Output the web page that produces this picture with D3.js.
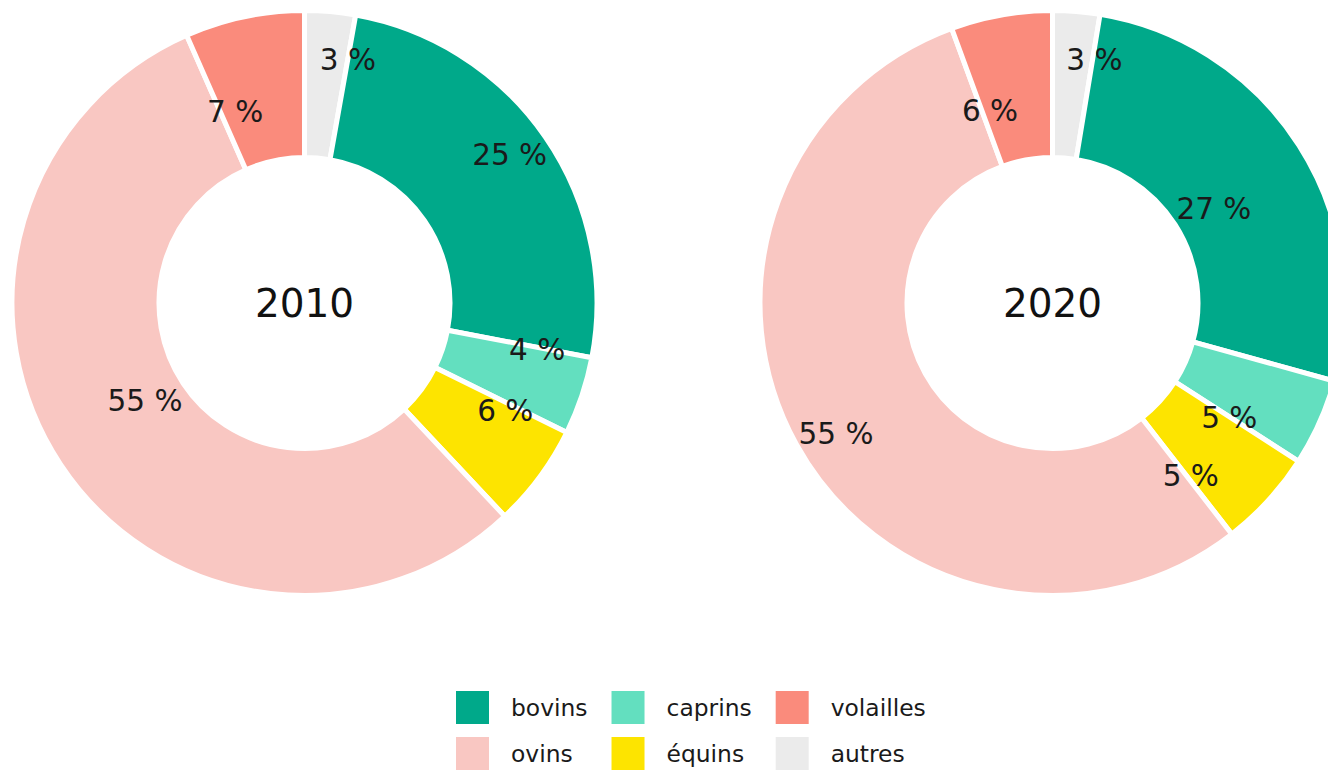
<!DOCTYPE html>
<html>
<head>
<meta charset="utf-8">
<script src="https://cdn.jsdelivr.net/npm/d3@7"></script>
<style>
  html, body { margin: 0; padding: 0; background: #fff; }
  svg { display: block; font-family: "DejaVu Sans", sans-serif; }
  .slice { stroke: #fff; stroke-width: 5; }
  .pct-label { font-size: 29.5px; fill: #1a1a1a; }
  .year-label { font-size: 39px; fill: #111; }
  .legend-text { font-size: 23.4px; fill: #1a1a1a; }
</style>
</head>
<body>
<div id="chart"></div>
<script>
// Cheptel par espèce, part en %
const categories = ["autres", "bovins", "caprins", "équins", "ovins", "volailles"];
const years = ["2010", "2020"];
const shares2010 = [2.8, 25.2, 4.3, 5.7, 55.4, 6.6];
const shares2020 = [2.6, 26.7, 4.8, 5.4, 54.9, 5.6];
const colors = ["#ebebeb", "#00a98a", "#63dfbf", "#fde400", "#f9c7c2", "#fa8b7c"];

// legend order, filled column by column over 2 rows
const legendOrder = ["bovins", "ovins", "caprins", "équins", "volailles", "autres"];

const width = 1328;
const height = 770;
const outerR = 292.5;
const innerR = 145.5;
const labelR = 220;

// labels are pushed off the ring middle, up-right (+1) or down-left (-1)
const labelNudge = 24;
const labelSide = {
    "2010": [1, 1, 1, 1, 1, -1],
    "2020": [1, -1, -1, -1, -1, -1]
};

const color = d3.scaleOrdinal().domain(categories).range(colors);

const svg = d3.select("#chart").append("svg")
    .attr("width", width)
    .attr("height", height)
    .attr("viewBox", `0 0 ${width} ${height}`);

// centres of the two donuts
const xCenter = d3.scalePoint().domain(years).range([304.5, 1052.5]);
const yCenter = 303;

const pie = d3.pie().sort(null).value(d => d.value);
const arc = d3.arc().innerRadius(innerR).outerRadius(outerR);
const labelArc = d3.arc().innerRadius(labelR).outerRadius(labelR);

const series = [shares2010, shares2020];

years.forEach((year, i) => {
    const data = categories.map((c, j) => ({ cat: c, value: series[i][j], side: labelSide[year][j] }));
    const g = svg.append("g")
        .attr("transform", `translate(${xCenter(year)},${yCenter})`);

    const arcs = pie(data);

    g.selectAll(".slice")
        .data(arcs)
        .enter()
        .append("path")
        .attr("class", "slice")
        .attr("fill", d => color(d.data.cat))
        .attr("d", arc);

    g.selectAll(".pct-label")
        .data(arcs)
        .enter()
        .append("text")
        .attr("class", "pct-label")
        .attr("transform", d => {
            const [cx, cy] = labelArc.centroid(d);
            const s = d.data.side;
            return `translate(${cx + s * labelNudge},${cy - s * labelNudge})`;
        })
        .attr("text-anchor", "middle")
        .attr("dy", "0.36em")
        .text(d => Math.round(d.data.value) + " %");

    g.append("text")
        .attr("class", "year-label")
        .attr("text-anchor", "middle")
        .attr("dy", "0.36em")
        .text(year);
});

// Legend
const keySize = 33;
const rowStep = 46;
const textGap = 22;
const colGap = 24;
const legend = svg.append("g").attr("transform", "translate(456,691)");

let colX = 0;
for (let c = 0; c < legendOrder.length / 2; c++) {
    const items = legendOrder.slice(c * 2, c * 2 + 2);
    let maxW = 0;
    items.forEach((name, r) => {
        const item = legend.append("g")
            .attr("transform", `translate(${colX},${r * rowStep})`);
        item.append("rect")
            .attr("width", keySize)
            .attr("height", keySize)
            .attr("fill", color(name));
        const t = item.append("text")
            .attr("class", "legend-text")
            .attr("x", keySize + textGap)
            .attr("y", keySize / 2)
            .attr("dy", "0.36em")
            .text(name);
        maxW = Math.max(maxW, t.node().getComputedTextLength());
    });
    colX += keySize + textGap + maxW + colGap;
}
</script>
</body>
</html>
